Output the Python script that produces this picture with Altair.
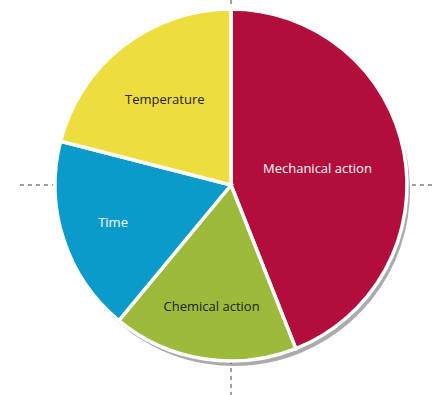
import altair as alt
import pandas as pd

categories = ["Mechanical action", "Chemical action", "Time", "Temperature"]
shares = [44, 17, 18, 21]
colors = ["#B20D3B", "#9DBB3B", "#0B9BCB", "#EEDD3E"]
label_colors = ["#ffffff", "#222222", "#ffffff", "#222222"]

df = pd.DataFrame({
    "category": categories,
    "share": shares,
    "idx": list(range(len(categories))),
})

CX, CY, R = 231, 185, 176

base = alt.Chart(df).encode(
    theta=alt.Theta("share:Q", stack=True),
    order=alt.Order("idx:Q"),
)

shadow = base.mark_arc(outerRadius=R, color="#444444", opacity=0.45).encode(
    x=alt.value(CX + 3), y=alt.value(CY + 5),
    detail="category:N",
)
pie = base.mark_arc(outerRadius=R, stroke="white", strokeWidth=3.5).encode(
    x=alt.value(CX), y=alt.value(CY),
    color=alt.Color("category:N", scale=alt.Scale(domain=categories, range=colors), legend=None),
)

labels = alt.Chart(df).transform_window(
    cum="sum(share)", sort=[alt.SortField("idx")], frame=[None, 0]
).transform_calculate(
    mid="datum.cum - datum.share / 2",
    rad="datum.category == 'Mechanical action' ? 88 : (datum.category == 'Temperature' ? 108 : 124)",
).mark_text(font="Open Sans", fontSize=13).encode(
    x=alt.value(CX), y=alt.value(CY),
    theta=alt.Theta("mid:Q", stack=None),
    radius=alt.Radius("rad:Q", scale=None),
    text="category:N",
    color=alt.Color("category:N", scale=alt.Scale(domain=categories, range=label_colors), legend=None),
)

vline = alt.Chart(df).mark_rule(color="#999999", strokeDash=[4, 4], strokeWidth=1).encode(
    x=alt.value(CX), y=alt.value(0), y2=alt.value(395)
)
hline = alt.Chart(df).mark_rule(color="#999999", strokeDash=[4, 4], strokeWidth=1).encode(
    y=alt.value(CY), x=alt.value(20), x2=alt.value(434)
)

chart = alt.layer(vline, hline, shadow, pie, labels).resolve_scale(
    color="independent"
).properties(
    width=434, height=395, autosize=alt.AutoSizeParams(type="none"), padding=0,
    background="white",
).configure_view(stroke=None, strokeWidth=0)

chart.save("out.html", embed_options={"renderer": "svg", "actions": False})
